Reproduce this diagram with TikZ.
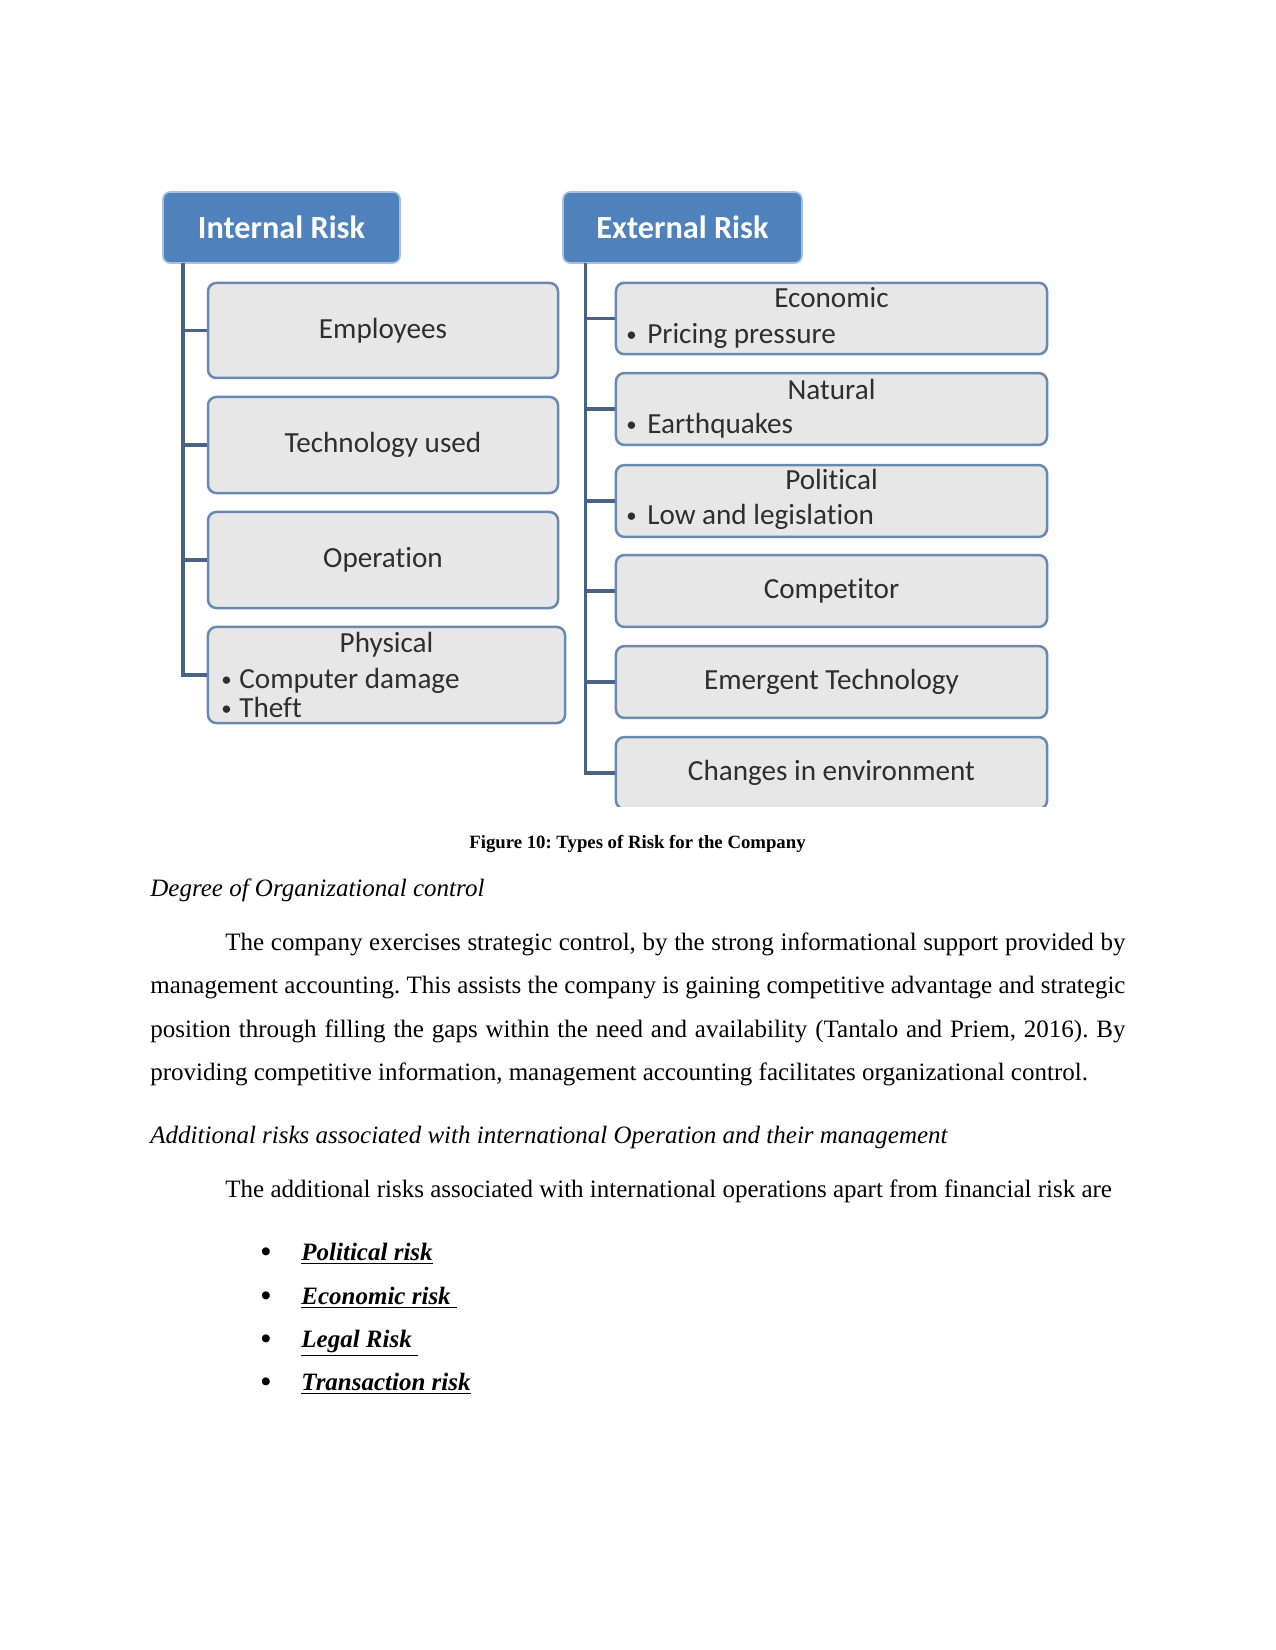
\documentclass[tikz,border=0pt]{standalone}
\usepackage{fontspec}
\setmainfont{Liberation Serif}
\newfontfamily\diafont{Carlito}[Ligatures=NoCommon]
\definecolor{headfill}{HTML}{4F81BD}
\definecolor{headline}{HTML}{A9C0DD}
\definecolor{boxfill}{HTML}{E7E7E7}
\definecolor{boxline}{HTML}{6A89B0}
\definecolor{connline}{HTML}{4A6384}
\definecolor{diatext}{HTML}{2E2E2E}
\newcommand{\smbul}{\raisebox{1.2pt}{\fontsize{10}{10}\selectfont\textbullet}}
\newcommand{\bigbul}{{\fontsize{14}{14}\selectfont\bfseries\textbullet}}
\frenchspacing
\begin{document}
\begin{tikzpicture}[x=0.48pt,y=-0.48pt,
  head/.style={draw=headline, line width=0.8pt, fill=headfill, rounded corners=3.5pt,
    inner sep=0pt, text=white, font=\diafont\fontsize{15.5}{18}\selectfont\bfseries},
  cbox/.style={draw=boxline, line width=1.2pt, fill=boxfill, rounded corners=4pt,
    inner sep=0pt, text=diatext, font=\diafont\fontsize{14}{17}\selectfont,
    text height=0.85em, text depth=0.1em},
  dtext/.style={inner sep=0pt, text=diatext, font=\diafont\fontsize{14}{17}\selectfont,
    text height=0.7em, text depth=0.25em, yshift=-2.4pt},
  conn/.style={draw=connline, line width=1.45pt},
  body/.style={inner sep=0pt, anchor=base west, font=\fontsize{12}{14}\selectfont},
]
\useasboundingbox (0,0) rectangle (1275,1650);

% trunks
\coordinate (itop) at (183,263);
\coordinate (etop) at (585,263);

% headers
\node[head, minimum width=113.8pt, minimum height=34.1pt] (int) at (281.5,227.5) {Internal Risk};
\node[head, minimum width=114.7pt, minimum height=34.1pt] (ext) at (682.5,227.5) {External Risk};

% internal children
\node[cbox, minimum width=168pt, minimum height=45.6pt] (emp) at (383,330.5) {Employees};
\node[cbox, minimum width=168pt, minimum height=46.1pt] (tech) at (383,445) {Technology used};
\node[cbox, minimum width=168pt, minimum height=46.1pt] (oper) at (383,560) {Operation};
\node[cbox, minimum width=171.4pt, minimum height=46.1pt] (phys) at (386.5,675) {};
\node[dtext] (physT) at (386.5,643) {Physical};
\node[dtext, anchor=west] (physB1) at (221,679) {\makebox[8.6pt][l]{\smbul}Computer damage};
\node[dtext, anchor=west] (physB2) at (221,708) {\makebox[8.6pt][l]{\smbul}Theft};

% external children
\node[cbox, minimum width=206.9pt, minimum height=34.3pt] (econ) at (831.5,318.5) {};
\node[dtext] (econT) at (831.5,298) {Economic};
\node[dtext, anchor=west] (econB) at (626,334) {\makebox[10pt][l]{\smbul}Pricing pressure};

\node[cbox, minimum width=206.9pt, minimum height=34.5pt] (nat) at (831.5,409) {};
\node[dtext] (natT) at (831.5,390) {Natural};
\node[dtext, anchor=west] (natB) at (626,424) {\makebox[10pt][l]{\smbul}Earthquakes};

\node[cbox, minimum width=206.9pt, minimum height=34.5pt] (pol) at (831.5,501) {};
\node[dtext] (polT) at (831.5,480) {Political};
\node[dtext, anchor=west] (polB) at (626,515) {\makebox[10pt][l]{\smbul}Low and legislation};

\node[cbox, minimum width=206.9pt, minimum height=34.5pt] (comp) at (831.5,591) {Competitor};
\node[cbox, minimum width=206.9pt, minimum height=34.5pt] (emerg) at (831.5,682) {Emergent Technology};
\begin{scope}
  \clip (0,0) rectangle (1275,806);
  \node[cbox, minimum width=206.9pt, minimum height=34.5pt] (chg) at (831.5,773) {Changes in environment};
\end{scope}

% connectors
\draw[conn] (itop) |- (phys.west);
\foreach \n in {emp,tech,oper} \draw[conn] (itop |- \n.west) -- (\n.west);
\draw[conn] (etop) |- (chg.west);
\foreach \n in {econ,nat,pol,comp,emerg} \draw[conn] (etop |- \n.west) -- (\n.west);

% caption and body text
\node[inner sep=0pt, anchor=base, font=\fontsize{9}{11}\selectfont\bfseries] (cap) at (637.5,848) {Figure 10: Types of Risk for the Company};
\node[body] (h1) at (150,896) {\itshape Degree of Organizational control};
\node[body] (p1) at (225,950) {\makebox[432pt][s]{The company exercises strategic control, by the strong informational support provided by}};
\node[body] (p2) at (150,993) {\makebox[468pt][s]{management accounting. This assists the company is gaining competitive advantage and strategic}};
\node[body] (p3) at (150,1037) {\makebox[468pt][s]{position through filling the gaps within the need and availability (Tantalo and Priem, 2016). By}};
\node[body] (p4) at (150,1080) {providing competitive information, management accounting facilitates organizational control.};
\node[body] (h2) at (150,1143) {\itshape Additional risks associated with international Operation and their management};
\node[body] (p5) at (225,1197) {The additional risks associated with international operations apart from financial risk are};

\node[body, anchor=base] (b1) at (266,1261) {\bigbul};
\node[body] (l1) at (301,1260) {\bfseries\itshape\underline{Political risk}};
\node[body, anchor=base] (b2) at (266,1305) {\bigbul};
\node[body] (l2) at (301,1304) {\bfseries\itshape\underline{Economic risk\ }};
\node[body, anchor=base] (b3) at (266,1348) {\bigbul};
\node[body] (l3) at (301,1347) {\bfseries\itshape\underline{Legal Risk\ }};
\node[body, anchor=base] (b4) at (266,1391) {\bigbul};
\node[body] (l4) at (301,1390) {\bfseries\itshape\underline{Transaction risk}};
\end{tikzpicture}
\end{document}
